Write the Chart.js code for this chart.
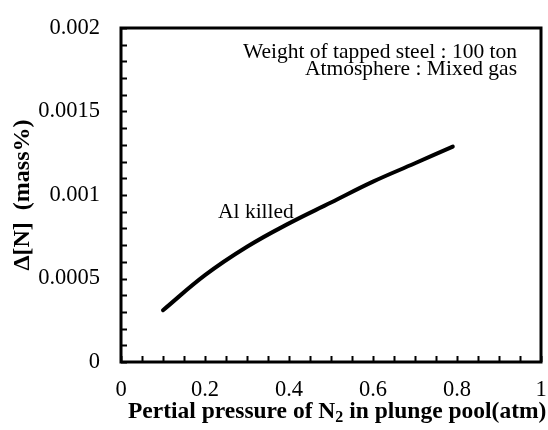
<!DOCTYPE html>
<html>
<head>
<meta charset="utf-8">
<script src="https://cdn.jsdelivr.net/npm/chart.js@4"></script>
<style>
  html, body { margin: 0; padding: 0; background: #fff; }
  #wrap { width: 548px; height: 430px; }
</style>
</head>
<body>
<div id="wrap"><canvas id="c" width="548" height="430"></canvas></div>
<script>
// N2 partial pressure (atm) and nitrogen pick-up Δ[N] (mass%), Al-killed steel
const pressure = [0.1, 0.2, 0.3, 0.4, 0.5, 0.6, 0.7, 0.79];
const deltaN   = [0.00031, 0.00052, 0.00069, 0.00083, 0.000955, 0.00108, 0.00119, 0.00129];

const xTickLabels = ['0', '0.2', '0.4', '0.6', '0.8', '1'];
const yTickLabels = ['0', '0.0005', '0.001', '0.0015', '0.002'];
const xMinorStep = 0.05;
const yMinorStep = 0.0001;

const serif = '"Liberation Serif", "Times New Roman", serif';

// frame, inward ticks, axis titles and notes
const framePlugin = {
  id: 'frame',
  afterDraw(chart) {
    const { ctx, chartArea: a, scales } = chart;
    const xs = scales.x, ys = scales.y;
    ctx.save();
    ctx.strokeStyle = '#000';
    ctx.lineWidth = 2;
    ctx.beginPath();
    for (let v = 0; v <= 1 + 1e-9; v += xMinorStep) {
      const px = Math.round(xs.getPixelForValue(v)) + 0.5;
      ctx.moveTo(px, a.bottom);
      ctx.lineTo(px, a.bottom - 6);
    }
    for (let v = 0; v <= 0.002 + 1e-12; v += yMinorStep) {
      const py = Math.round(ys.getPixelForValue(v)) + 0.5;
      ctx.moveTo(a.left, py);
      ctx.lineTo(a.left + 6, py);
    }
    ctx.stroke();
    ctx.lineWidth = 3;
    ctx.strokeRect(a.left, a.top, a.right - a.left, a.bottom - a.top);

    ctx.fillStyle = '#000';
    // notes
    ctx.font = '21.5px ' + serif;
    ctx.textAlign = 'right';
    ctx.textBaseline = 'middle';
    ctx.fillText('Weight of tapped steel : 100 ton', 517, 52);
    ctx.fillText('Atmosphere : Mixed gas', 517, 69);
    ctx.textAlign = 'left';
    ctx.fillText('Al killed', 218, 212);

    // x title with subscript
    const main = 'bold 23.5px ' + serif;
    const sub = 'bold 16px ' + serif;
    const p1 = 'Pertial pressure of N', p2 = '2', p3 = ' in plunge pool(atm)';
    ctx.font = main; const w1 = ctx.measureText(p1).width, w3 = ctx.measureText(p3).width;
    ctx.font = sub; const w2 = ctx.measureText(p2).width;
    const total = w1 + w2 + w3;
    const x0 = 128;
    const ty = 412;
    ctx.textAlign = 'left';
    ctx.textBaseline = 'middle';
    ctx.font = main; ctx.fillText(p1, x0, ty);
    ctx.font = sub; ctx.fillText(p2, x0 + w1, ty + 6);
    ctx.font = main; ctx.fillText(p3, x0 + w1 + w2, ty);

    // y title
    ctx.translate(23, (a.top + a.bottom) / 2);
    ctx.rotate(-Math.PI / 2);
    ctx.textAlign = 'center';
    ctx.font = 'bold 24px ' + serif;
    ctx.fillText('Δ[N]  (mass%)', 0, 0);
    ctx.restore();
  }
};

new Chart(document.getElementById('c'), {
  type: 'scatter',
  data: {
    datasets: [{
      data: pressure.map((p, i) => ({ x: p, y: deltaN[i] })),
      showLine: true,
      borderColor: '#000',
      borderWidth: 4,
      borderCapStyle: 'round',
      tension: 0.4,
      pointRadius: 0,
      fill: false
    }]
  },
  options: {
    responsive: false,
    animation: false,
    layout: { padding: { top: 28, right: 7, left: 0, bottom: 0 } },
    plugins: { legend: { display: false }, tooltip: { enabled: false } },
    scales: {
      x: {
        type: 'linear', min: 0, max: 1,
        afterFit(s) { s.height = 68; s.paddingLeft = 0; s.paddingRight = 0; },
        grid: { display: false, drawTicks: false },
        border: { display: false },
        ticks: {
          stepSize: 0.2, padding: 15, color: '#000', maxRotation: 0,
          font: { family: serif, size: 22.5 },
          callback: (v, i) => xTickLabels[i]
        }
      },
      y: {
        type: 'linear', min: 0, max: 0.002,
        afterFit(s) { s.width = 121; s.paddingTop = 0; s.paddingBottom = 0; },
        grid: { display: false, drawTicks: false },
        border: { display: false },
        ticks: {
          stepSize: 0.0005, padding: 21, color: '#000',
          font: { family: serif, size: 22.5 },
          callback: (v, i) => yTickLabels[i]
        }
      }
    }
  },
  plugins: [framePlugin]
});
</script>
</body>
</html>
